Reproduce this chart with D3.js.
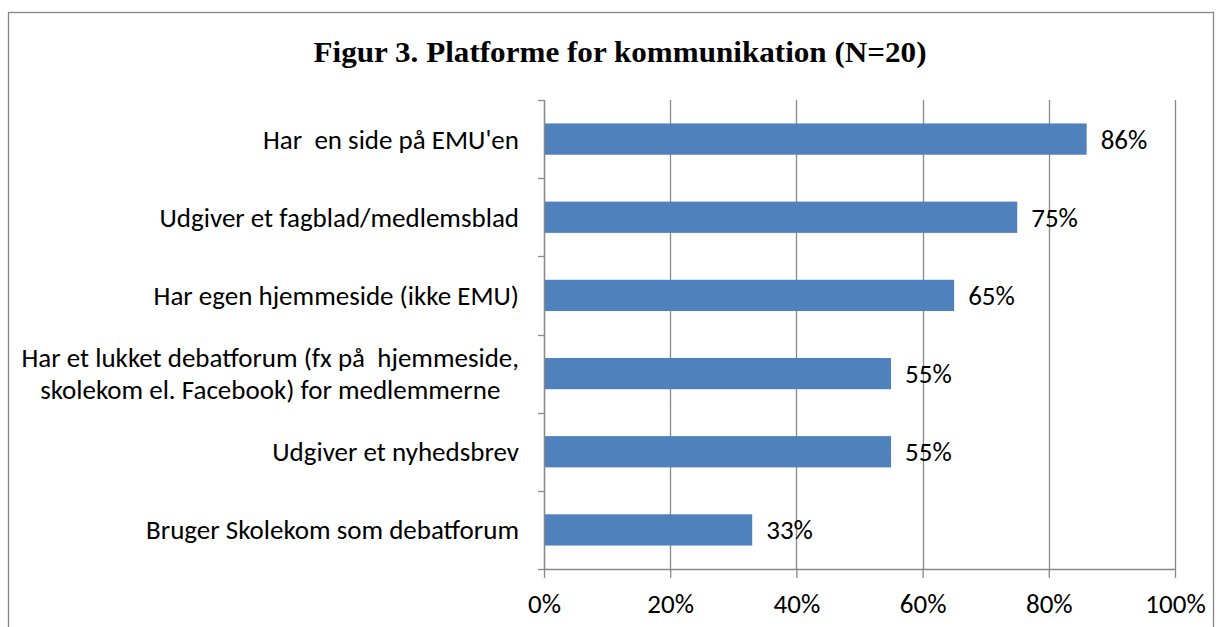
<!DOCTYPE html>
<html>
<head>
<meta charset="utf-8">
<script src="https://cdn.jsdelivr.net/npm/d3@7"></script>
<style>
  body { margin: 0; background: #fff; }
  text { font-family: Carlito, Calibri, Lato, sans-serif; white-space: pre; }
</style>
</head>
<body>
<div id="chart"></div>
<script>
const width = 1222;
const height = 627;
const margin = { top: 100, right: 47, bottom: 58, left: 544 };

const title = "Figur 3. Platforme for kommunikation (N=20)";
const categories = [
  "Har  en side på EMU'en",
  "Udgiver et fagblad/medlemsblad",
  "Har egen hjemmeside (ikke EMU)",
  "Har et lukket debatforum (fx på  hjemmeside,\nskolekom el. Facebook) for medlemmerne",
  "Udgiver et nyhedsbrev",
  "Bruger Skolekom som debatforum"
];
const values = [86, 75, 65, 55, 55, 33];
const xTicks = [0, 20, 40, 60, 80, 100];

const fontSize = "27px";

const svg = d3
  .select("#chart")
  .append("svg")
  .attr("width", width)
  .attr("height", height);

// outer frame (bottom edge runs off the picture)
svg.append("rect")
  .attr("x", 8.5)
  .attr("y", 12.5)
  .attr("width", 1205)
  .attr("height", 640)
  .attr("fill", "none")
  .attr("stroke", "#868686")
  .attr("stroke-width", 1.3);

svg.append("text")
  .attr("x", 620)
  .attr("y", 62)
  .attr("text-anchor", "middle")
  .style("font-family", "'Liberation Serif', 'DejaVu Serif', serif")
  .style("font-weight", "bold")
  .style("font-size", "30px")
  .attr("textLength", 613)
  .attr("lengthAdjust", "spacingAndGlyphs")
  .text(title);

const innerW = width - margin.left - margin.right;
const innerH = height - margin.top - margin.bottom;

const g = svg.append("g")
  .attr("transform", `translate(${margin.left},${margin.top})`);

const xScale = d3.scaleLinear().domain([0, 100]).range([0, innerW]);
const yScale = d3.scaleBand().domain(categories).range([0, innerH]).paddingInner(0.6).paddingOuter(0.3);

// vertical gridlines
g.append("g")
  .selectAll("line")
  .data(xTicks)
  .join("line")
  .attr("x1", (d) => Math.round(xScale(d)) + 0.5)
  .attr("x2", (d) => Math.round(xScale(d)) + 0.5)
  .attr("y1", 0)
  .attr("y2", innerH)
  .attr("stroke", "#898989")
  .attr("stroke-width", 1.3);

// bars
g.selectAll("rect.bar")
  .data(values)
  .join("rect")
  .attr("class", "bar")
  .attr("x", 0)
  .attr("y", (d, i) => yScale(categories[i]))
  .attr("width", (d) => xScale(d))
  .attr("height", yScale.bandwidth())
  .attr("fill", "#4f81bd");

// value labels
g.selectAll("text.val")
  .data(values)
  .join("text")
  .attr("class", "val")
  .attr("x", (d) => xScale(d) + 14)
  .attr("y", (d, i) => yScale(categories[i]) + yScale.bandwidth() / 2)
  .attr("dy", "0.35em")
  .style("font-size", fontSize)
  .attr("fill", "#000")
  .text((d) => d + "%");

// x axis
const xAxis = g.append("g")
  .attr("transform", `translate(0,${innerH})`)
  .call(d3.axisBottom(xScale).tickValues(xTicks).tickFormat((d) => d + "%").tickSize(9).tickPadding(16));
xAxis.select(".domain").attr("stroke", "#898989").attr("stroke-width", 1.3).attr("d", `M0,0.5H${innerW}`);
xAxis.selectAll(".tick line").attr("stroke", "#898989").attr("stroke-width", 1.3);
xAxis.selectAll(".tick text").style("font-size", fontSize).attr("fill", "#000")
  .style("font-family", "Carlito, Calibri, Lato, sans-serif");

// y axis (category ticks between bands)
const yEdge = d3.scaleLinear().domain([0, categories.length]).range([0, innerH]);
const yAxis = g.append("g");
yAxis.append("line")
  .attr("x1", 0.5).attr("x2", 0.5).attr("y1", 0).attr("y2", innerH)
  .attr("stroke", "#898989").attr("stroke-width", 1.3);
yAxis.selectAll("line.tk")
  .data(d3.range(categories.length + 1))
  .join("line")
  .attr("class", "tk")
  .attr("x1", -6).attr("x2", 0)
  .attr("y1", (d) => Math.round(yEdge(d)) + 0.5)
  .attr("y2", (d) => Math.round(yEdge(d)) + 0.5)
  .attr("stroke", "#898989").attr("stroke-width", 1.3);

// category labels, wrapped lines centred inside a right-aligned block
categories.forEach((c, i) => {
  const lines = c.split("\n");
  const cy = yScale(c) + yScale.bandwidth() / 2;
  const t = g.append("text")
    .style("font-size", fontSize)
    .attr("fill", "#000");
  lines.forEach((ln, j) => {
    t.append("tspan")
      .attr("x", 0)
      .attr("y", cy + (j - (lines.length - 1) / 2) * 32)
      .attr("dy", "0.35em")
      .text(ln);
  });
  const w = d3.max(t.selectAll("tspan").nodes(), (n) => n.getComputedTextLength());
  t.attr("text-anchor", "middle").selectAll("tspan").attr("x", -25 - w / 2);
});
</script>
</body>
</html>
